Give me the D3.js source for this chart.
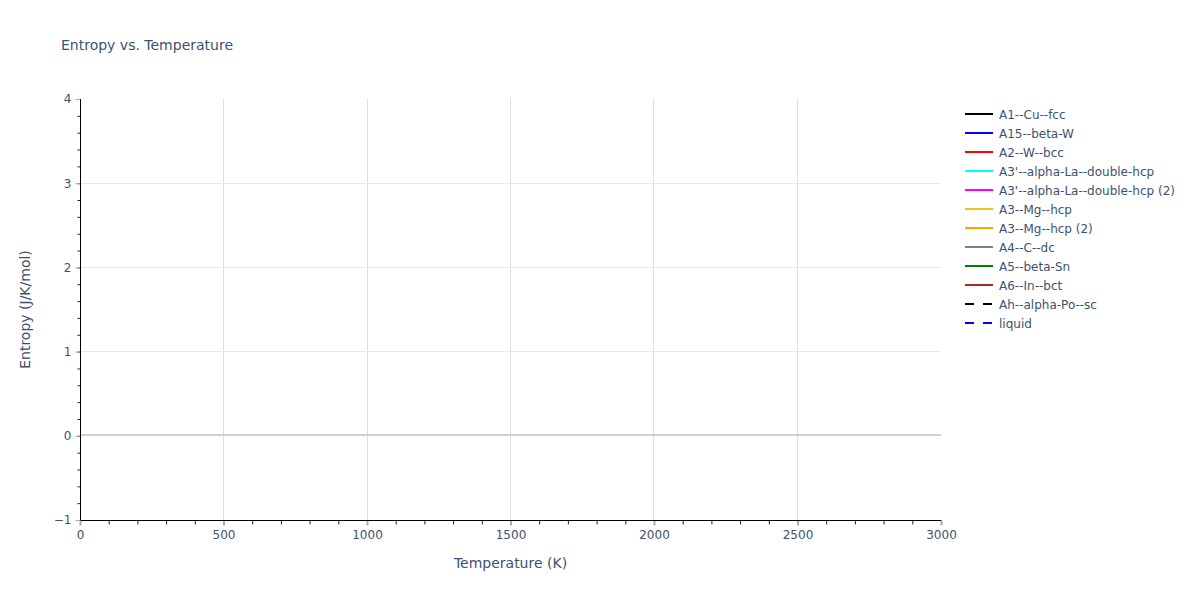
<!DOCTYPE html>
<html>
<head>
<meta charset="utf-8">
<script src="https://cdn.jsdelivr.net/npm/d3@7"></script>
<style>
  body { margin: 0; background: #fff; }
  text { font-family: "DejaVu Sans", Verdana, sans-serif; fill: #3d5170; }
</style>
</head>
<body>
<svg width="1200" height="600"></svg>
<script>
// phase names shown in the legend (no points are plotted in the source chart)
const phases = ["A1--Cu--fcc", "A15--beta-W", "A2--W--bcc", "A3'--alpha-La--double-hcp",
  "A3'--alpha-La--double-hcp (2)", "A3--Mg--hcp", "A3--Mg--hcp (2)", "A4--C--dc",
  "A5--beta-Sn", "A6--In--bct", "Ah--alpha-Po--sc", "liquid"];
const phaseColors = ["black", "blue", "red", "cyan", "magenta", "#f2c418", "orange",
  "gray", "green", "brown", "black", "blue"];
const dashed = [false, false, false, false, false, false, false, false, false, false, true, true];

// temperature (K) / entropy (J/K/mol) per phase - empty in the reference
const temperature = [];
const entropy = phases.map(() => []);

const xTicks = [0, 500, 1000, 1500, 2000, 2500, 3000];
const yTicks = [-1, 0, 1, 2, 3, 4];

const svg = d3.select("svg");
const margin = {left: 80, right: 259, top: 99, bottom: 80};
const W = 1200, H = 600;

const x = d3.scaleLinear().domain([0, 3000]).range([margin.left, W - margin.right]);
const y = d3.scaleLinear().domain([-1, 4]).range([H - margin.bottom, margin.top]);
const px = v => Math.floor(v) + 0.5;

// grid
svg.append("g").selectAll("line")
  .data(xTicks.filter(d => d > 0 && d < 3000))
  .join("line")
  .attr("x1", d => px(x(d))).attr("x2", d => px(x(d)))
  .attr("y1", y(4)).attr("y2", y(-1))
  .attr("stroke", "#dedede").attr("stroke-width", 1);

svg.append("g").selectAll("line")
  .data(yTicks.filter(d => d > 0 && d < 4))
  .join("line")
  .attr("x1", x(0)).attr("x2", x(3000))
  .attr("y1", d => px(y(d))).attr("y2", d => px(y(d)))
  .attr("stroke", "#e8e8e8").attr("stroke-width", 1);

// zero line
svg.append("line")
  .attr("x1", x(0)).attr("x2", x(3000))
  .attr("y1", Math.floor(y(0))).attr("y2", Math.floor(y(0)))
  .attr("stroke", "#d0d0d0").attr("stroke-width", 2);

// series
const line = d3.line().x((d, i) => x(temperature[i])).y(d => y(d));
svg.append("g").selectAll("path")
  .data(entropy)
  .join("path")
  .attr("d", d => line(d))
  .attr("fill", "none")
  .attr("stroke", (d, i) => phaseColors[i])
  .attr("stroke-width", 2)
  .attr("stroke-dasharray", (d, i) => dashed[i] ? "9,9" : null);

const fmt = d => d < 0 ? "\u2212" + Math.abs(d) : String(d);

// x axis
const xAxis = svg.append("g").attr("transform", `translate(0,${px(y(-1))})`);
xAxis.call(d3.axisBottom(x).tickValues(d3.range(0, 3001, 100)).tickSize(4).tickFormat(""))
  .call(g => g.select(".domain").remove())
  .call(g => g.selectAll(".tick line").attr("stroke", "#222"));
xAxis.append("g").call(d3.axisBottom(x).tickValues(xTicks).tickSize(5).tickPadding(5).tickFormat(fmt))
  .call(a => a.select(".domain").remove())
  .call(a => a.selectAll(".tick line").attr("stroke", "#aaa").attr("stroke-width", 2))
  .call(a => a.selectAll(".tick text").attr("fill", "#3d5170").style("font-size", "12px")
    .style("font-family", "'DejaVu Sans', Verdana, sans-serif"));
xAxis.append("line").attr("x1", x(0)).attr("x2", x(3000)).attr("stroke", "#000").attr("stroke-width", 1);

// y axis
const yAxis = svg.append("g").attr("transform", `translate(${px(x(0))},0)`);
yAxis.call(d3.axisLeft(y).tickValues(d3.range(-1, 4.001, 0.2)).tickSize(3).tickFormat(""))
  .call(g => g.select(".domain").remove())
  .call(g => g.selectAll(".tick line").attr("stroke", "#222"));
yAxis.append("g").call(d3.axisLeft(y).tickValues(yTicks).tickSize(5).tickPadding(4).tickFormat(fmt))
  .call(a => a.select(".domain").remove())
  .call(a => a.selectAll(".tick line").attr("stroke", "#aaa").attr("stroke-width", 1))
  .call(a => a.selectAll(".tick text").attr("fill", "#3d5170").style("font-size", "12px")
    .style("font-family", "'DejaVu Sans', Verdana, sans-serif"));
yAxis.append("line").attr("y1", y(-1)).attr("y2", y(4)).attr("stroke", "#000").attr("stroke-width", 1);

// titles
svg.append("text").attr("x", 61).attr("y", 50).style("font-size", "14px")
  .text("Entropy vs. Temperature");
svg.append("text").attr("x", (x(0) + x(3000)) / 2).attr("y", 568)
  .attr("text-anchor", "middle").style("font-size", "14px").text("Temperature (K)");
svg.append("text").attr("transform", `translate(30,${(y(-1) + y(4)) / 2}) rotate(-90)`)
  .attr("text-anchor", "middle").style("font-size", "14px").text("Entropy (J/K/mol)");

// legend
const legend = svg.append("g").attr("transform", "translate(965,114)");
const item = legend.selectAll("g").data(phases).join("g")
  .attr("transform", (d, i) => `translate(0,${i * 19})`);
item.append("line").attr("x1", 0).attr("x2", 28)
  .attr("stroke", (d, i) => phaseColors[i]).attr("stroke-width", 2)
  .attr("stroke-dasharray", (d, i) => dashed[i] ? "9,9" : null);
item.append("text").attr("x", 34).attr("y", 4.5).style("font-size", "12px").text(d => d);
</script>
</body>
</html>
